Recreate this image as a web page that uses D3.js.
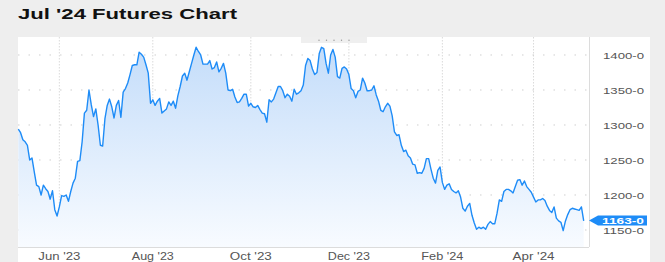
<!DOCTYPE html>
<html>
<head>
<meta charset="utf-8">
<script src="https://cdn.jsdelivr.net/npm/d3@7"></script>
<style>
  body { margin: 0; background: #eeeeee; }
  svg text { font-family: "Liberation Sans", Arial, sans-serif; }
</style>
</head>
<body>
<div id="my_dataviz"></div>
<script>
// daily settles, Jul '24 contract (cents, 1/8 ignored)
const closes = [
  1294, 1289, 1279, 1276, 1271, 1250, 1253, 1233, 1214, 1212,
  1200, 1214, 1209, 1205, 1194, 1206, 1179, 1170, 1183, 1199,
  1198, 1200, 1191, 1205, 1217, 1224, 1248, 1249, 1276, 1317,
  1321, 1350, 1329, 1312, 1323, 1300, 1271, 1270, 1309, 1328,
  1337, 1326, 1310, 1328, 1335, 1311, 1347, 1352, 1360, 1372,
  1385, 1386, 1386, 1404, 1401, 1397, 1386, 1374, 1331, 1336,
  1328, 1334, 1338, 1317, 1320, 1323, 1333, 1328, 1334, 1324,
  1342, 1355, 1370, 1374, 1364, 1376, 1388, 1400, 1411, 1405,
  1400, 1387, 1387, 1387, 1392, 1380, 1382, 1390, 1376, 1381,
  1388, 1374, 1350, 1349, 1351, 1340, 1332, 1333, 1338, 1344,
  1344, 1327, 1331, 1326, 1325, 1328, 1322, 1317, 1316, 1304,
  1336, 1333, 1337, 1346, 1355, 1355, 1349, 1339, 1344, 1341,
  1334, 1351, 1344, 1346, 1349, 1357, 1385, 1395, 1392, 1380,
  1372, 1375, 1402, 1411, 1409, 1388, 1374, 1400, 1408, 1397,
  1369, 1367, 1381, 1383, 1380, 1372, 1352, 1349, 1339, 1348,
  1350, 1367, 1360, 1349, 1349, 1350, 1356, 1343, 1334, 1321,
  1319, 1326, 1331, 1327, 1313, 1290, 1285, 1286, 1271, 1262,
  1264, 1256, 1253, 1244, 1243, 1231, 1232, 1231, 1238, 1252,
  1252, 1237, 1224, 1217, 1235, 1240, 1218, 1208, 1214, 1216,
  1208, 1205, 1203, 1206, 1197, 1181, 1177, 1184, 1188, 1171,
  1160, 1151, 1154, 1152, 1154, 1151, 1158, 1162, 1159, 1159,
  1174, 1193, 1191, 1205, 1208, 1208, 1206, 1203, 1212, 1221,
  1222, 1214, 1220, 1212, 1208, 1204, 1197, 1190, 1193, 1193,
  1195, 1192, 1184, 1178, 1175, 1183, 1167, 1163, 1161, 1149,
  1163, 1172, 1179, 1181, 1180, 1179, 1178, 1183, 1163
];
const firstDay = "2023-05-05";
const holidays = ["2023-05-29", "2023-06-19", "2023-07-04", "2023-09-04", "2023-11-23",
                  "2023-12-25", "2024-01-01", "2024-01-15", "2024-02-19", "2024-03-29"];
const tickMonths = ["2023-06", "2023-08", "2023-10", "2023-12", "2024-02", "2024-04"];
const tickLabels = ["Jun '23", "Aug '23", "Oct '23", "Dec '23", "Feb '24", "Apr '24"];
const yTicks = [1150, 1200, 1250, 1300, 1350, 1400];

function init() {
    const width = 665, height = 262;
    const plot = {left: 18, right: 589, top: 37, bottom: 247};

    // trading calendar: weekdays minus exchange holidays
    const fmtDay = d3.utcFormat("%Y-%m-%d"), fmtMonth = d3.utcFormat("%Y-%m");
    const dates = [];
    let day = new Date(firstDay + "T00:00:00Z");
    while (dates.length < closes.length) {
        const wd = day.getUTCDay();
        if (wd !== 0 && wd !== 6 && !holidays.includes(fmtDay(day))) dates.push(new Date(day));
        day = d3.utcDay.offset(day, 1);
    }
    const data = closes.map((c, i) => ({i: i, date: dates[i], close: c}));

    const x = d3.scaleLinear()
                .domain([0, closes.length - 1])
                .range([18.3, 583.7]);
    const y = d3.scaleLinear()
                .domain([1125.7, 1425.7])
                .range([plot.bottom, plot.top]);

    const svg = d3.select("#my_dataviz")
                  .append("svg")
                  .attr("width", width)
                  .attr("height", height);

    svg.append("text")
        .attr("x", 18)
        .attr("y", 19)
        .attr("textLength", 219)
        .attr("lengthAdjust", "spacingAndGlyphs")
        .style("font-size", "15px")
        .style("font-weight", "bold")
        .style("fill", "#111")
        .text("Jul '24 Futures Chart");

    // white panel
    svg.append("rect")
        .attr("x", 18).attr("y", 37)
        .attr("width", 632).attr("height", height - 37)
        .attr("fill", "#fff");

    const defs = svg.append("defs");
    const grad = defs.append("linearGradient")
        .attr("id", "fillGrad")
        .attr("x1", 0).attr("y1", 0).attr("x2", 0).attr("y2", 1);
    grad.append("stop").attr("offset", "0%").attr("stop-color", "#c4ddfa");
    grad.append("stop").attr("offset", "100%").attr("stop-color", "#f8fbff");

    // grid
    const tickIdx = tickMonths.map(m => data.find(d => fmtMonth(d.date) === m).i);
    svg.selectAll(".vgrid")
        .data(tickIdx)
        .join("line")
        .attr("x1", d => x(d)).attr("x2", d => x(d))
        .attr("y1", plot.top).attr("y2", plot.bottom)
        .attr("stroke", "#dadada")
        .attr("stroke-dasharray", "1.5,1.5");
    svg.selectAll(".hgrid")
        .data(yTicks)
        .join("line")
        .attr("x1", plot.left).attr("x2", plot.right)
        .attr("y1", d => y(d)).attr("y2", d => y(d))
        .attr("stroke", "#cfcfcf")
        .attr("stroke-dasharray", "1.5,9");

    // area + line
    const area = d3.area()
        .x(d => x(d.i))
        .y0(plot.bottom)
        .y1(d => y(d.close));
    const line = d3.line()
        .x(d => x(d.i))
        .y(d => y(d.close));

    svg.append("path")
        .datum(data)
        .attr("d", area)
        .attr("fill", "url(#fillGrad)");
    svg.append("path")
        .datum(data)
        .attr("d", line)
        .attr("fill", "none")
        .attr("stroke", "#1e8cf7")
        .attr("stroke-width", 1.4)
        .attr("stroke-linejoin", "round");

    // frame
    svg.append("line")
        .attr("x1", plot.left).attr("x2", plot.right)
        .attr("y1", plot.bottom + 0.5).attr("y2", plot.bottom + 0.5)
        .attr("stroke", "#dcdcdc");
    svg.append("line")
        .attr("x1", plot.right + 0.5).attr("x2", plot.right + 0.5)
        .attr("y1", plot.top).attr("y2", plot.bottom)
        .attr("stroke", "#dcdcdc");

    // drag handle
    svg.append("rect")
        .attr("x", 301).attr("y", 37)
        .attr("width", 66).attr("height", 6)
        .attr("fill", "#efefef");
    svg.selectAll(".grip")
        .data(d3.range(5))
        .join("circle")
        .attr("cx", d => 319 + d * 7.5)
        .attr("cy", 40.3)
        .attr("r", 0.7)
        .attr("fill", "#999");

    // x labels
    svg.selectAll(".xlab")
        .data(tickIdx)
        .join("text")
        .attr("x", d => x(d))
        .attr("y", 259.5)
        .attr("text-anchor", "middle")
        .attr("textLength", 42)
        .attr("lengthAdjust", "spacingAndGlyphs")
        .style("font-size", "10px")
        .style("fill", "#555")
        .text((d, i) => tickLabels[i]);

    // y labels
    svg.selectAll(".ylab")
        .data(yTicks)
        .join("text")
        .attr("x", 603)
        .attr("y", d => y(d) + 3.6)
        .attr("textLength", 41)
        .attr("lengthAdjust", "spacingAndGlyphs")
        .style("font-size", "9.5px")
        .style("fill", "#555")
        .text(d => d + "-0");

    // last price tag
    const last = closes[closes.length - 1];
    const ly = y(last) - 0.5;
    svg.append("path")
        .attr("d", `M${plot.right},${ly} L${plot.right + 9},${ly - 5} L647,${ly - 5} L647,${ly + 5} L${plot.right + 9},${ly + 5} Z`)
        .attr("fill", "#1e8cf7");
    svg.append("text")
        .attr("x", 602)
        .attr("y", ly + 3.3)
        .attr("textLength", 42)
        .attr("lengthAdjust", "spacingAndGlyphs")
        .style("font-size", "9.5px")
        .style("font-weight", "bold")
        .style("fill", "#fff")
        .text(last + "-0");
}

window.onload = init;
</script>
</body>
</html>
